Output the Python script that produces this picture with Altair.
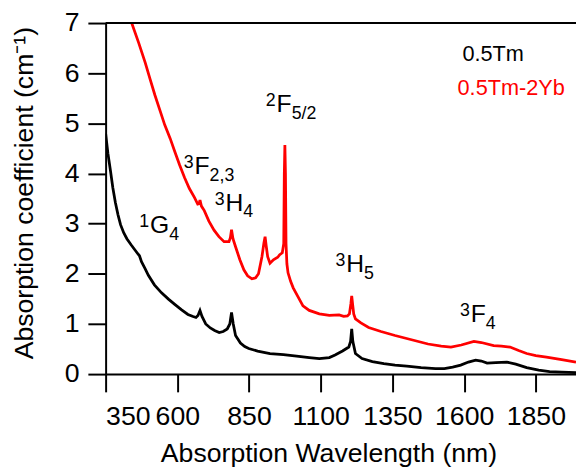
import altair as alt
import pandas as pd

# ---- data ----
black_nm = [350, 358, 367, 375, 384, 393, 402, 413, 424, 440, 453, 462, 468, 475, 488, 499, 520, 545, 570, 591,
            615, 637, 655, 665, 672, 679, 686, 699, 715, 730, 746, 760, 774, 783, 789, 795, 803, 820, 835, 849,
            880, 923, 970, 1016, 1060, 1095, 1130, 1150, 1176, 1198, 1204, 1208, 1212, 1221, 1244, 1280, 1320,
            1359, 1400, 1450, 1500, 1531, 1560, 1588, 1615, 1640, 1660, 1680, 1710, 1749, 1780, 1818, 1860,
            1898, 1940, 1990]
black_val = [4.80, 4.40, 4.05, 3.72, 3.42, 3.18, 2.98, 2.82, 2.70, 2.57, 2.47, 2.40, 2.36, 2.24, 2.10, 1.97, 1.78,
             1.62, 1.49, 1.39, 1.28, 1.19, 1.15, 1.13, 1.17, 1.27, 1.15, 1.00, 0.92, 0.87, 0.83, 0.85, 0.90, 1.00,
             1.23, 1.00, 0.77, 0.62, 0.55, 0.51, 0.46, 0.41, 0.39, 0.36, 0.33, 0.31, 0.33, 0.38, 0.46, 0.54, 0.65,
             0.90, 0.65, 0.41, 0.31, 0.25, 0.21, 0.18, 0.16, 0.13, 0.11, 0.11, 0.14, 0.18, 0.24, 0.28, 0.26, 0.22,
             0.23, 0.24, 0.20, 0.13, 0.08, 0.05, 0.04, 0.03]

red_nm = [435, 441, 465, 488, 505, 522, 540, 556, 575, 591, 608, 625, 642, 660, 671, 676, 679, 684, 694, 710,
          728, 745, 763, 780, 785, 789, 794, 803, 818, 832, 845, 860, 873, 883, 895, 902, 906, 910, 915, 923,
          935, 950, 957, 966, 971, 973, 975, 977, 979, 982, 986, 995, 1004, 1020, 1038, 1060, 1095, 1130,
          1164, 1180, 1193, 1200, 1205, 1208, 1211, 1215, 1221, 1240, 1267, 1310, 1359, 1420, 1474, 1520,
          1554, 1590, 1634, 1660, 1703, 1730, 1760, 1790, 1818, 1850, 1887, 1940, 1990]
red_val = [7.12, 7.00, 6.61, 6.21, 5.88, 5.56, 5.25, 4.97, 4.70, 4.44, 4.17, 3.92, 3.70, 3.52, 3.39, 3.40, 3.47,
           3.35, 3.26, 3.05, 2.87, 2.74, 2.64, 2.64, 2.72, 2.88, 2.70, 2.54, 2.28, 2.08, 1.96, 1.90, 1.92, 2.00,
           2.34, 2.62, 2.74, 2.55, 2.34, 2.21, 2.28, 2.33, 2.38, 2.42, 2.60, 4.00, 4.57, 4.00, 2.60, 2.20, 2.02,
           1.85, 1.72, 1.55, 1.36, 1.27, 1.20, 1.17, 1.18, 1.15, 1.16, 1.20, 1.40, 1.56, 1.40, 1.20, 1.10, 1.02,
           0.93, 0.85, 0.77, 0.68, 0.60, 0.56, 0.54, 0.58, 0.65, 0.63, 0.57, 0.56, 0.54, 0.47, 0.41, 0.37, 0.34,
           0.29, 0.24]

series_names = ["0.5Tm", "0.5Tm-2Yb"]
series_colors = ["#000000", "#ff0000"]

x_ticks = [350, 600, 850, 1100, 1350, 1600, 1850]
y_ticks = [0, 1, 2, 3, 4, 5, 6, 7]

legend_nm = [1594, 1577]
legend_val = [6.25, 5.57]

ann_main = ["G", "F", "H", "F", "H", "F"]
ann_sup = ["1", "3", "3", "2", "3", "3"]
ann_sub = ["4", "2,3", "4", "5/2", "5", "4"]
ann_nm = [505, 660, 768, 946, 1189, 1623]
ann_val = [2.815, 3.984, 3.262, 5.23, 2.035, 1.031]

# ---- chart ----
FONT = "Liberation Sans"
W, H = 477, 356
MAIN_FS, SMALL_FS = 25, 18
adv = {"G": 0.778, "F": 0.611, "H": 0.722}

df = pd.concat([
    pd.DataFrame({"nm": black_nm, "val": black_val, "series": series_names[0]}),
    pd.DataFrame({"nm": red_nm, "val": red_val, "series": series_names[1]}),
])

x_enc = alt.X("nm:Q", scale=alt.Scale(domain=[350, 1990], nice=False, zero=False),
              axis=alt.Axis(values=x_ticks, format="d", title="Absorption Wavelength (nm)",
                            titleX=226, titleY=89, titleBaseline="alphabetic", titleFontSize=27,
                            labelPadding=12))
y_enc = alt.Y("val:Q", scale=alt.Scale(domain=[0, 7], nice=False),
              axis=alt.Axis(values=y_ticks, format="d", title="Absorption coefficient (cm\u207b\u00b9)",
                            titleX=-74, titleY=172, titleBaseline="alphabetic", titleFontSize=27,
                            labelPadding=9))
color_enc = alt.Color("series:N", scale=alt.Scale(domain=series_names, range=series_colors), legend=None)

lines = alt.Chart(df).mark_line(strokeWidth=2.8, clip=True).encode(
    x=x_enc, y=y_enc, color=color_enc, detail="series:N", order="nm:Q")

leg_df = pd.DataFrame({"nm": legend_nm, "val": legend_val, "series": series_names})
legend_text = alt.Chart(leg_df).mark_text(align="left", baseline="alphabetic", fontSize=22, font=FONT).encode(
    x=x_enc, y=y_enc, color=color_enc, text="series:N")

layers = [lines, legend_text]
for m, sp, sb, nm, v in zip(ann_main, ann_sup, ann_sub, ann_nm, ann_val):
    d = pd.DataFrame({"nm": [nm], "val": [v], "main": [m], "sup": [sp], "sub": [sb]})
    base = alt.Chart(d)
    layers.append(base.mark_text(align="left", baseline="alphabetic", fontSize=MAIN_FS, font=FONT,
                                 color="black").encode(x=x_enc, y=y_enc, text="main:N"))
    layers.append(base.mark_text(align="right", baseline="alphabetic", fontSize=SMALL_FS, font=FONT,
                                 color="black", dx=-1, dy=-6).encode(x=x_enc, y=y_enc, text="sup:N"))
    layers.append(base.mark_text(align="left", baseline="alphabetic", fontSize=SMALL_FS, font=FONT,
                                 color="black", dx=adv[m] * MAIN_FS, dy=7).encode(x=x_enc, y=y_enc, text="sub:N"))

frame = alt.Chart(pd.DataFrame({"a": [0]})).mark_rule(color="black", strokeWidth=2).encode(
    x=alt.value(0), x2=alt.value(W), y=alt.value(0))
layers.append(frame)

chart = alt.layer(*layers).properties(
    width=W, height=H, autosize="none",
    padding={"left": 99, "top": 12, "right": 0, "bottom": 95},
).configure_view(stroke=None).configure_axis(
    grid=False, domainColor="black", domainWidth=2, tickColor="black", tickWidth=2, tickSize=18,
    labelFont=FONT, labelFontSize=27, labelColor="black",
    titleFont=FONT, titleFontSize=28, titleFontWeight="normal", titleColor="black",
).configure_text(font=FONT)

chart.save("out.html", embed_options={"renderer": "svg", "actions": False})
